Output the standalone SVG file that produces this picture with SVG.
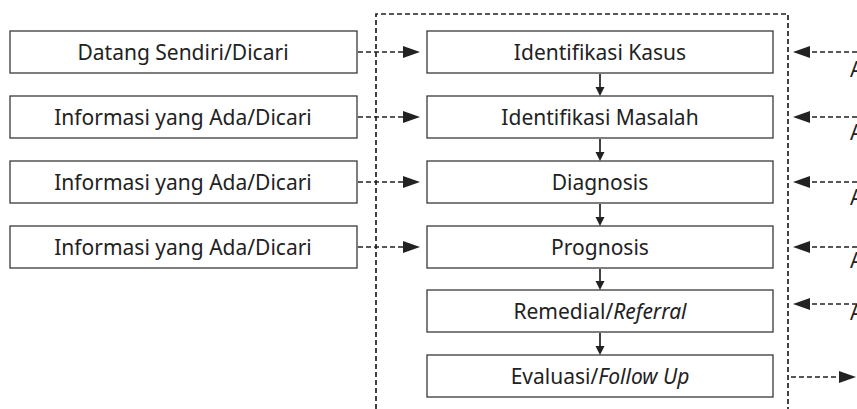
<svg xmlns="http://www.w3.org/2000/svg" width="857" height="409" viewBox="0 0 857 409">
<style>
.box{fill:#fff;stroke:#3a3a3a;stroke-width:1.3}
.t{font-family:"Source Sans Pro","Noto Sans","Open Sans",sans-serif;font-size:21px;fill:#222;text-anchor:middle}
.dash{fill:none;stroke:#222;stroke-width:1.7;stroke-dasharray:5 3}
.solid{fill:none;stroke:#222;stroke-width:1.7}
.head{fill:#222}
</style>
<rect width="857" height="409" fill="#fff"/>
<g id="frame"><path class="dash" d="M376,409 V14 H788 V409"/></g>
<g id="src1"><rect class="box" x="10" y="31" width="347" height="42"/><text class="t" x="183" y="60">Datang Sendiri/Dicari</text></g>
<g id="src2"><rect class="box" x="10" y="96" width="347" height="42"/><text class="t" x="183" y="125">Informasi yang Ada/Dicari</text></g>
<g id="src3"><rect class="box" x="10" y="161" width="347" height="42"/><text class="t" x="183" y="190">Informasi yang Ada/Dicari</text></g>
<g id="src4"><rect class="box" x="10" y="226" width="347" height="42"/><text class="t" x="183" y="255">Informasi yang Ada/Dicari</text></g>
<g id="step1"><rect class="box" x="427" y="31" width="346" height="42"/><text class="t" x="600" y="60">Identifikasi Kasus</text></g>
<g id="step2"><rect class="box" x="427" y="96" width="346" height="42"/><text class="t" x="600" y="125">Identifikasi Masalah</text></g>
<g id="step3"><rect class="box" x="427" y="161" width="346" height="42"/><text class="t" x="600" y="190">Diagnosis</text></g>
<g id="step4"><rect class="box" x="427" y="226" width="346" height="42"/><text class="t" x="600" y="255">Prognosis</text></g>
<g id="step5"><rect class="box" x="427" y="290" width="346" height="42"/><text class="t" x="600" y="319">Remedial/<tspan font-style="italic">Referral</tspan></text></g>
<g id="step6"><rect class="box" x="427" y="355" width="346" height="42"/><text class="t" x="600" y="384">Evaluasi/<tspan font-style="italic">Follow Up</tspan></text></g>
<g id="offscreen"><text class="t" style="text-anchor:start" x="850" y="77">A</text><text class="t" style="text-anchor:start" x="850" y="140">A</text><text class="t" style="text-anchor:start" x="850" y="205">A</text><text class="t" style="text-anchor:start" x="850" y="268">A</text><text class="t" style="text-anchor:start" x="850" y="320">A</text></g>
<g id="connectors">
<path class="dash" d="M358,52 H405"/><polygon class="head" points="403,46 420,52 403,58"/>
<path class="dash" d="M358,117 H405"/><polygon class="head" points="403,111 420,117 403,123"/>
<path class="dash" d="M358,182 H405"/><polygon class="head" points="403,176 420,182 403,188"/>
<path class="dash" d="M358,247 H405"/><polygon class="head" points="403,241 420,247 403,253"/>
<path class="dash" d="M857,52 H808"/><polygon class="head" points="810,46 793,52 810,58"/>
<path class="dash" d="M857,117 H808"/><polygon class="head" points="810,111 793,117 810,123"/>
<path class="dash" d="M857,182 H808"/><polygon class="head" points="810,176 793,182 810,188"/>
<path class="dash" d="M857,247 H808"/><polygon class="head" points="810,241 793,247 810,253"/>
<path class="dash" d="M857,304 H808"/><polygon class="head" points="810,298 793,304 810,310"/>
<path class="dash" d="M791,377 H840"/><polygon class="head" points="839,371 856,377 839,383"/>
<path class="solid" d="M600,74 V89"/><polygon class="head" points="595.5,87 604.5,87 600,96"/>
<path class="solid" d="M600,139 V154"/><polygon class="head" points="595.5,152 604.5,152 600,161"/>
<path class="solid" d="M600,204 V219"/><polygon class="head" points="595.5,217 604.5,217 600,226"/>
<path class="solid" d="M600,269 V283"/><polygon class="head" points="595.5,281 604.5,281 600,290"/>
<path class="solid" d="M600,333 V348"/><polygon class="head" points="595.5,346 604.5,346 600,355"/>
</g>
</svg>
